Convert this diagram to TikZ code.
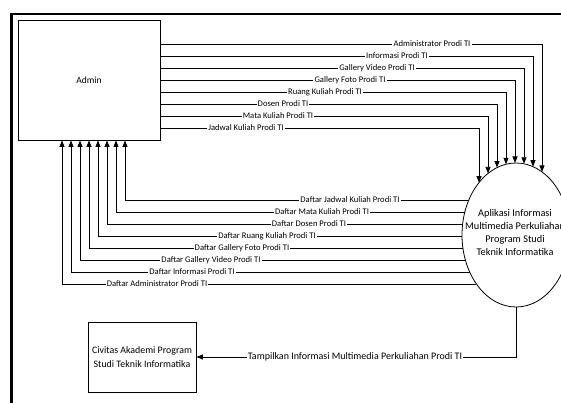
\documentclass[tikz,border=0pt]{standalone}
\usepackage{fontspec}
\setmainfont{Carlito}
\usetikzlibrary{arrows.meta,shapes.geometric}
\begin{document}
\begin{tikzpicture}[x=1pt,y=-1pt,
  conn/.style={line width=0.8pt},
  arr/.style={conn,-{Triangle[length=6.5pt,width=5pt]}},
  lab/.style={fill=white,inner sep=1.2pt,font=\fontsize{8.6}{10}\selectfont},
  box/.style={draw,line width=0.9pt,rectangle,inner sep=0pt}]
\useasboundingbox (0,0) rectangle (561,403);
% frame
\draw[line width=2.6pt] (11.5,410) -- (11.5,14) -- (570,14);
% entities
\node[box,minimum width=142pt,minimum height=120pt,font=\fontsize{9.5}{11}\selectfont] (admin) at (89,80) {Admin};
\node[box,minimum width=108pt,minimum height=70pt,align=center,font=\fontsize{9.9}{14.5}\selectfont] (civ) at (142,357) {Civitas Akademi Program\\Studi Teknik Informatika};
\node[draw,ellipse,line width=0.8pt,minimum width=108pt,minimum height=144pt,inner sep=0pt] (app) at (516,235) {};
\node[align=center,font=\fontsize{10.3}{13}\selectfont] (apptext) at (515,232) {Aplikasi Informasi\\Multimedia Perkuliahan\\Program Studi\\Teknik Informatika};
% ends on ellipse (top)
\coordinate (t1) at (542,171.9);
\coordinate (t2) at (533,166.7);
\coordinate (t3) at (524,163.8);
\coordinate (t4) at (515,163.0);
\coordinate (t5) at (506,164.3);
\coordinate (t6) at (497,167.6);
\coordinate (t7) at (488,173.4);
\coordinate (t8) at (479,182.6);
% starts on ellipse (left)
\coordinate (d1) at (468.8,200);
\coordinate (d2) at (464.8,212);
\coordinate (d3) at (462.6,224);
\coordinate (d4) at (462.0,236);
\coordinate (d5) at (462.9,248);
\coordinate (d6) at (465.4,260);
\coordinate (d7) at (469.7,272);
\coordinate (d8) at (476.4,284);
% outgoing flows
\draw[arr] (admin.east |- 0,44) -| (t1);
\draw[arr] (admin.east |- 0,56) -| (t2);
\draw[arr] (admin.east |- 0,68) -| (t3);
\draw[arr] (admin.east |- 0,80) -| (t4);
\draw[arr] (admin.east |- 0,92) -| (t5);
\draw[arr] (admin.east |- 0,104) -| (t6);
\draw[arr] (admin.east |- 0,116) -| (t7);
\draw[arr] (admin.east |- 0,128) -| (t8);
% incoming flows
\draw[arr] (d1) -| (admin.south -| 125,0);
\draw[arr] (d2) -| (admin.south -| 116,0);
\draw[arr] (d3) -| (admin.south -| 107,0);
\draw[arr] (d4) -| (admin.south -| 98,0);
\draw[arr] (d5) -| (admin.south -| 89,0);
\draw[arr] (d6) -| (admin.south -| 80,0);
\draw[arr] (d7) -| (admin.south -| 71,0);
\draw[arr] (d8) -| (admin.south -| 62,0);
% output flow
\draw[arr] (app.south) |- (civ.east);
% labels
\node[lab] (l1) at (432,44) {Administrator Prodi TI};
\node[lab] (l2) at (397,56) {Informasi Prodi TI};
\node[lab] (l3) at (377,68) {Gallery Video Prodi TI};
\node[lab] (l4) at (350,80) {Gallery Foto Prodi TI};
\node[lab] (l5) at (325,92) {Ruang Kuliah Prodi TI};
\node[lab] (l6) at (283,104) {Dosen Prodi TI};
\node[lab] (l7) at (278,116) {Mata Kuliah Prodi TI};
\node[lab] (l8) at (246,128) {Jadwal Kuliah Prodi TI};
\node[lab] (m1) at (350,200) {Daftar Jadwal Kuliah Prodi TI};
\node[lab] (m2) at (322,212) {Daftar Mata Kuliah Prodi TI};
\node[lab] (m3) at (309,224) {Daftar Dosen Prodi TI};
\node[lab] (m4) at (267,236) {Daftar Ruang Kuliah Prodi TI};
\node[lab] (m5) at (242,248) {Daftar Gallery Foto Prodi TI};
\node[lab] (m6) at (211,260) {Daftar Gallery Video Prodi TI};
\node[lab] (m7) at (192,272) {Daftar Informasi Prodi TI};
\node[lab] (m8) at (157,284) {Daftar Administrator Prodi TI};
\node[lab,font=\fontsize{10}{12}\selectfont] (o1) at (355,357) {Tampilkan Informasi Multimedia Perkuliahan Prodi TI};
\end{tikzpicture}
\end{document}
